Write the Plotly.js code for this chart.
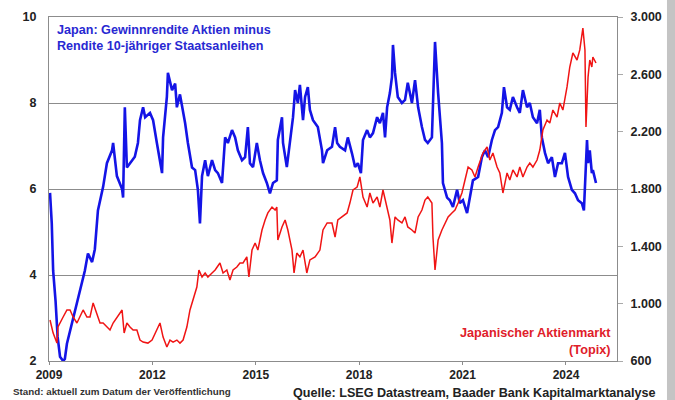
<!DOCTYPE html>
<html>
<head>
<meta charset="utf-8">
<script src="https://cdn.plot.ly/plotly-3.0.1.min.js"></script>
<style>html,body{margin:0;padding:0;background:#fff;}#chart{width:675px;height:400px;}</style>
</head>
<body>
<div id="chart"></div>
<script>
// Blue series: earnings yield minus 10y JGB yield (left axis, %)
const spreadDates = [2009.03,2009.08,2009.12,2009.19,2009.25,2009.32,2009.41,2009.46,2009.52,2009.61,2009.81,2009.96,2010.04,2010.13,2010.25,2010.33,2010.42,2010.57,2010.68,2010.83,2010.86,2010.97,2011.12,2011.15,2011.20,2011.26,2011.41,2011.49,2011.58,2011.64,2011.73,2011.79,2011.93,2012.02,2012.13,2012.22,2012.28,2012.31,2012.42,2012.45,2012.57,2012.66,2012.71,2012.80,2012.89,2012.95,2013.03,2013.15,2013.24,2013.32,2013.38,2013.44,2013.53,2013.61,2013.73,2013.82,2013.90,2014.02,2014.11,2014.19,2014.31,2014.40,2014.48,2014.60,2014.69,2014.77,2014.83,2014.92,2015.03,2015.12,2015.21,2015.32,2015.41,2015.50,2015.61,2015.64,2015.76,2015.79,2015.90,2015.99,2016.08,2016.14,2016.22,2016.28,2016.37,2016.43,2016.51,2016.57,2016.66,2016.80,2016.92,2016.95,2017.07,2017.21,2017.30,2017.36,2017.44,2017.59,2017.67,2017.79,2017.88,2017.96,2018.05,2018.11,2018.23,2018.31,2018.40,2018.52,2018.60,2018.69,2018.75,2018.81,2018.89,2018.95,2018.98,2019.04,2019.12,2019.24,2019.33,2019.41,2019.53,2019.62,2019.71,2019.82,2019.91,2019.99,2020.11,2020.20,2020.29,2020.40,2020.43,2020.55,2020.63,2020.72,2020.84,2020.92,2021.01,2021.13,2021.21,2021.30,2021.45,2021.56,2021.65,2021.74,2021.85,2021.94,2022.03,2022.14,2022.20,2022.29,2022.37,2022.46,2022.58,2022.66,2022.75,2022.87,2022.95,2023.04,2023.16,2023.24,2023.30,2023.39,2023.48,2023.59,2023.68,2023.77,2023.88,2023.97,2024.06,2024.17,2024.26,2024.35,2024.46,2024.52,2024.61,2024.64,2024.69,2024.75,2024.78,2024.87];
const spreadValues = [5.91,5.2,4.1,3.4,2.56,2.1,2.0,2.05,2.4,2.7,3.35,3.8,4.1,4.5,4.3,4.6,5.5,6.05,6.6,6.9,7.07,6.3,6.0,5.8,7.9,6.5,6.67,6.75,7.07,7.6,7.9,7.67,7.77,7.6,7.07,6.6,6.37,7.2,8.14,8.7,8.3,8.45,7.9,8.2,7.84,7.53,7.07,6.5,6.44,5.98,5.2,6.3,6.67,6.3,6.67,6.44,6.37,6.14,7.2,7.07,7.37,7.2,6.9,6.67,6.74,7.44,6.6,6.51,7.07,6.67,6.37,6.14,5.9,6.14,6.2,7.14,7.67,7.07,6.51,7.14,7.67,8.3,8.0,8.42,7.6,8.14,8.37,7.84,7.6,7.44,6.9,6.6,6.9,6.98,7.44,7.07,6.98,6.9,7.2,6.83,6.51,6.6,6.37,7.14,7.37,7.2,7.3,7.67,7.53,7.77,7.2,7.9,8.23,8.6,9.35,8.7,8.14,8.0,8.07,8.47,8.0,8.53,7.9,7.44,7.14,7.07,7.2,9.42,8.23,7.07,6.14,5.8,5.74,5.58,5.98,5.67,5.74,5.44,5.8,6.2,6.28,6.74,6.9,6.74,7.14,7.37,7.44,7.77,8.37,7.9,7.84,8.14,7.9,7.77,8.3,7.9,8.0,7.67,7.53,7.84,7.2,6.84,6.6,6.74,6.28,6.6,6.6,6.84,6.28,5.98,5.9,5.74,5.67,5.5,7.14,6.6,6.9,6.37,6.44,6.14];

// Red series: Topix (right axis)
const topixDates = [2009.03,2009.12,2009.23,2009.26,2009.41,2009.52,2009.61,2009.70,2009.81,2009.90,2009.99,2010.10,2010.19,2010.28,2010.39,2010.48,2010.57,2010.68,2010.77,2010.86,2010.97,2011.12,2011.18,2011.26,2011.35,2011.44,2011.55,2011.64,2011.73,2011.87,2011.99,2012.08,2012.22,2012.31,2012.42,2012.51,2012.60,2012.71,2012.80,2012.89,2013.00,2013.09,2013.18,2013.29,2013.35,2013.44,2013.53,2013.61,2013.73,2013.82,2013.96,2014.05,2014.16,2014.25,2014.34,2014.45,2014.54,2014.63,2014.74,2014.80,2014.89,2014.98,2015.06,2015.18,2015.27,2015.35,2015.47,2015.56,2015.61,2015.64,2015.76,2015.85,2015.93,2016.05,2016.11,2016.19,2016.28,2016.37,2016.48,2016.57,2016.72,2016.86,2016.95,2017.07,2017.21,2017.30,2017.38,2017.50,2017.65,2017.73,2017.82,2017.94,2018.02,2018.11,2018.23,2018.31,2018.40,2018.52,2018.60,2018.69,2018.81,2018.89,2018.95,2019.04,2019.12,2019.24,2019.33,2019.41,2019.53,2019.62,2019.71,2019.82,2019.91,2019.99,2020.11,2020.14,2020.20,2020.29,2020.40,2020.49,2020.58,2020.69,2020.78,2020.87,2020.98,2021.07,2021.16,2021.27,2021.36,2021.45,2021.59,2021.71,2021.79,2021.88,2022.00,2022.08,2022.17,2022.29,2022.37,2022.46,2022.58,2022.66,2022.75,2022.87,2022.95,2023.04,2023.16,2023.24,2023.33,2023.45,2023.53,2023.62,2023.74,2023.82,2023.91,2024.03,2024.11,2024.20,2024.32,2024.40,2024.49,2024.55,2024.58,2024.64,2024.69,2024.75,2024.78,2024.87];
const topixValues = [886,795,725,837,907,956,956,907,865,907,956,907,907,1005,935,865,865,837,816,865,907,956,795,865,837,816,816,746,732,725,746,795,865,767,698,746,732,746,725,746,837,956,1026,1116,1235,1186,1214,1186,1214,1235,1284,1214,1235,1165,1235,1256,1284,1284,1326,1186,1374,1423,1374,1514,1584,1633,1674,1653,1674,1444,1535,1584,1514,1374,1214,1353,1326,1374,1214,1305,1326,1374,1514,1563,1563,1465,1584,1605,1633,1702,1793,1814,1884,1744,1674,1772,1702,1744,1674,1793,1674,1584,1423,1605,1584,1563,1605,1535,1514,1493,1605,1653,1723,1744,1702,1465,1235,1444,1514,1563,1605,1633,1653,1702,1772,1863,1953,1933,1884,1953,2051,2093,2002,2051,1953,1912,1772,1912,1863,1933,1884,1953,1884,1953,1981,1953,2002,2072,2212,2281,2260,2351,2302,2400,2351,2512,2651,2749,2700,2770,2923,2770,2233,2581,2700,2651,2721,2679];

const xTickVals = [2009, 2012, 2015, 2018, 2021, 2024];
const xTickText = ['2009', '2012', '2015', '2018', '2021', '2024'];
const leftTicks = [2, 4, 6, 8, 10];
const rightTicks = [600, 1000, 1400, 1800, 2200, 2600, 3000];

const FONT = 'Liberation Sans, Arial, sans-serif';
const gridCol = '#8c8c8c';

const traces = [
  {x: topixDates, y: topixValues, yaxis: 'y2', type: 'scatter', mode: 'lines',
   line: {color: '#f01414', width: 1.5}, hoverinfo: 'skip'},
  {x: spreadDates, y: spreadValues, yaxis: 'y', type: 'scatter', mode: 'lines',
   line: {color: '#1414e6', width: 2.6}, hoverinfo: 'skip'}
];

const layout = {
  width: 675, height: 400,
  margin: {l: 49, r: 58, t: 17, b: 39, pad: 0},
  paper_bgcolor: '#ffffff', plot_bgcolor: '#ffffff',
  showlegend: false,
  separators: ',.',
  font: {family: FONT, color: '#222'},
  xaxis: {
    range: [2009, 2025.48], tickmode: 'array', tickvals: xTickVals, ticktext: xTickText,
    showgrid: false, zeroline: false, showline: true, linecolor: gridCol, linewidth: 1,
    mirror: true, ticks: 'outside', ticklen: 3, tickcolor: gridCol, ticklabelstandoff: 0,
    tickfont: {family: FONT, size: 12, weight: 'bold', color: '#222'}
  },
  yaxis: {
    range: [2, 10], tickmode: 'array', tickvals: leftTicks,
    showgrid: true, gridcolor: gridCol, gridwidth: 1, zeroline: false,
    showline: true, linecolor: gridCol, linewidth: 1, ticks: '',
    ticklabelstandoff: 9,
    tickfont: {family: FONT, size: 12.5, weight: 'bold', color: '#222'}
  },
  yaxis2: {
    range: [600, 3000], overlaying: 'y', side: 'right', tickmode: 'array', tickvals: rightTicks,
    tickformat: ',d', showgrid: false, zeroline: false,
    showline: true, linecolor: gridCol, linewidth: 1,
    ticks: 'outside', ticklen: 5, tickcolor: '#aaa', ticklabelstandoff: 5,
    tickfont: {family: FONT, size: 12.5, weight: 'bold', color: '#222'}
  },
  shapes: [
    {type: 'rect', xref: 'paper', yref: 'paper', x0: 1.088, x1: 1.12, y0: -0.2, y1: 1.2,
     fillcolor: '#c4c4c4', line: {width: 0}, layer: 'above'}
  ],
  annotations: [
    {xref: 'paper', yref: 'paper', x: 0.0106, y: 0.988, xanchor: 'left', yanchor: 'top', align: 'left',
     showarrow: false, text: 'Japan: Gewinnrendite Aktien minus<br>Rendite 10-jähriger Staatsanleihen',
     font: {family: FONT, size: 12.6, weight: 'bold', color: '#2828d2'}},
    {xref: 'paper', yref: 'paper', x: 0.993, y: 0.006, xanchor: 'right', yanchor: 'bottom', align: 'right',
     showarrow: false, text: 'Japanischer Aktienmarkt<br>(Topix)',
     font: {family: FONT, size: 12.7, weight: 'bold', color: '#e0202a'}},
    {xref: 'paper', yref: 'paper', x: -0.0669, y: -0.089, xanchor: 'left', yanchor: 'middle', align: 'left',
     showarrow: false, text: 'Stand: aktuell zum Datum der Veröffentlichung',
     font: {family: FONT, size: 9.8, weight: 'bold', color: '#333'}},
    {xref: 'paper', yref: 'paper', x: 1.072, y: -0.093, xanchor: 'right', yanchor: 'middle', align: 'right',
     showarrow: false, text: 'Quelle: LSEG Datastream, Baader Bank Kapitalmarktanalyse',
     font: {family: FONT, size: 12.6, weight: 'bold', color: '#222'}}
  ]
};

Plotly.newPlot('chart', traces, layout, {staticPlot: true, displayModeBar: false});
</script>
</body>
</html>
